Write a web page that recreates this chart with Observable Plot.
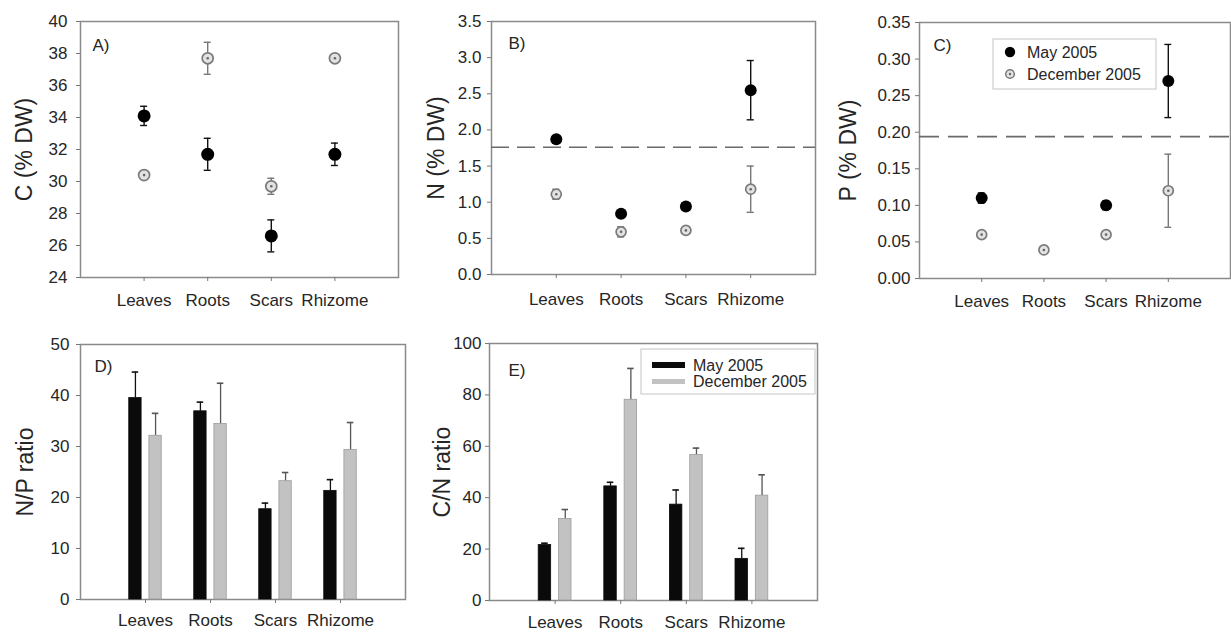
<!DOCTYPE html>
<html><head><meta charset="utf-8">
<script src="https://cdn.jsdelivr.net/npm/d3@7"></script>
<script src="https://cdn.jsdelivr.net/npm/@observablehq/plot@0.6"></script>
<style>
body{margin:0;background:#fff;}
#wrap{position:relative;width:1231px;height:632px;overflow:hidden;background:#fff;}
#wrap svg{position:absolute;overflow:visible;background:transparent;}
</style></head><body><div id="wrap"></div>
<script>
// ---------- data ----------
const categories = ["Leaves", "Roots", "Scars", "Rhizome"];
const seasons = ["May 2005", "December 2005"];

// A) C (% DW)
const cMay = [34.1, 31.7, 26.6, 31.7];
const cMaySE = [0.6, 1.0, 1.0, 0.7];
const cDec = [30.4, 37.7, 29.7, 37.7];
const cDecSE = [0.15, 1.0, 0.5, 0.15];
const cTicks = [24, 26, 28, 30, 32, 34, 36, 38, 40];

// B) N (% DW)
const nMay = [1.87, 0.84, 0.94, 2.55];
const nMaySE = [0.05, 0.04, 0.05, 0.41];
const nDec = [1.11, 0.59, 0.61, 1.18];
const nDecSE = [0.07, 0.07, 0.03, 0.32];
const nCritical = [1.76];
const nTicks = [0, 0.5, 1, 1.5, 2, 2.5, 3, 3.5];

// C) P (% DW)
const pMay = [0.110, null, 0.100, 0.270];
const pMaySE = [0.007, null, 0.006, 0.050];
const pDec = [0.060, 0.039, 0.060, 0.120];
const pDecSE = [0.003, 0.003, 0.003, 0.050];
const pCritical = [0.194];
const pTicks = [0, 0.05, 0.10, 0.15, 0.20, 0.25, 0.30, 0.35];

// D) N/P ratio
const npMay = [39.5, 36.9, 17.7, 21.3];
const npMaySE = [5.1, 1.8, 1.2, 2.2];
const npDec = [32.1, 34.4, 23.2, 29.3];
const npDecSE = [4.4, 8.0, 1.7, 5.4];
const npTicks = [0, 10, 20, 30, 40, 50];

// E) C/N ratio
const cnMay = [21.6, 44.4, 37.3, 16.2];
const cnMaySE = [0.7, 1.6, 5.7, 4.1];
const cnDec = [31.7, 78.1, 56.6, 40.8];
const cnDecSE = [3.7, 12.2, 2.7, 8.1];
const cnTicks = [0, 20, 40, 60, 80, 100];

// ---------- helpers ----------
const FONT = "'Liberation Sans', Arial, Helvetica, sans-serif";
const TXT = "#262626";
const FRAME = "#8a8a8a";
const TICKFS = 17;
const wrap = document.getElementById("wrap");

function rowsOf(vals, ses) {
  return categories.map((c, i) => ({cat: c, pos: i + 1, value: vals[i], se: ses[i]}))
    .filter(d => d.value != null);
}

function dotMarks(vals, ses, season, r) {
  const rows = rowsOf(vals, ses);
  const col = season === 0 ? "#111" : "#777";
  const cap = 0.055;
  const m = [
    Plot.ruleX(rows, {x: "pos", y1: d => d.value - d.se, y2: d => d.value + d.se, stroke: col, strokeWidth: 1.4}),
    Plot.ruleY(rows, {y: d => d.value + d.se, x1: d => d.pos - cap, x2: d => d.pos + cap, stroke: col, strokeWidth: 1.4}),
    Plot.ruleY(rows, {y: d => d.value - d.se, x1: d => d.pos - cap, x2: d => d.pos + cap, stroke: col, strokeWidth: 1.4})
  ];
  if (season === 0) {
    m.push(Plot.dot(rows, {x: "pos", y: "value", r: r, fill: "#000", stroke: "none"}));
  } else {
    m.push(Plot.dot(rows, {x: "pos", y: "value", r: r - 1, fill: "#e2e2e2", stroke: "#7a7a7a", strokeWidth: 1.7}));
    m.push(Plot.dot(rows, {x: "pos", y: "value", r: 1.3, fill: "#666", stroke: "none"}));
  }
  return m;
}

function barMarks(vals, ses, season) {
  const rows = rowsOf(vals, ses);
  const a = season === 0 ? -0.25 : 0.06, b = season === 0 ? -0.06 : 0.25;
  const fill = season === 0 ? "#0a0a0a" : "#c2c2c2";
  const stroke = season === 0 ? "#0a0a0a" : "#9c9c9c";
  const ecol = season === 0 ? "#111" : "#555";
  const mid = d => d.pos + (a + b) / 2;
  const cap = 0.05;
  return [
    Plot.ruleX(rows, {x: mid, y1: "value", y2: d => d.value + d.se, stroke: ecol, strokeWidth: 1.3}),
    Plot.ruleY(rows, {y: d => d.value + d.se, x1: d => mid(d) - cap, x2: d => mid(d) + cap, stroke: ecol, strokeWidth: 1.6}),
    Plot.rectY(rows, {x1: d => d.pos + a, x2: d => d.pos + b, y: "value", fill, stroke, strokeWidth: 0.8})
  ];
}

function panel(o) {
  const marks = [
    Plot.frame({stroke: FRAME, strokeWidth: 1.5}),
    ...(o.marks || []),
    Plot.axisY({ticks: o.yTicks, tickFormat: o.yFormat, tickSize: 4, tickPadding: o.yPad, label: null,
      stroke: "#777", fill: TXT, fontSize: TICKFS}),
    Plot.axisX({ticks: [1, 2, 3, 4], tickFormat: d => categories[d - 1], tickSize: 4, tickPadding: o.xPad,
      label: null, stroke: "#777", fill: TXT, fontSize: TICKFS}),
    Plot.text([o.yLabel], {text: d => d, frameAnchor: "left", rotate: -90, dx: -o.labelOffset,
      textAnchor: "middle", lineAnchor: "middle", fontSize: 23, fill: TXT}),
    Plot.text([o.panelLabel], {text: d => d, frameAnchor: "top-left", dx: o.plDx, dy: o.plDy,
      textAnchor: "start", lineAnchor: "middle", fontSize: 17, fill: TXT})
  ];
  const svg = Plot.plot({
    width: o.width, height: o.height,
    marginLeft: o.m[0], marginRight: o.m[1], marginTop: o.m[2], marginBottom: o.m[3],
    x: {domain: [0, 5]},
    y: {domain: o.yDomain},
    style: {fontFamily: FONT, fontSize: TICKFS + "px", color: TXT, background: "transparent", overflow: "visible"},
    marks
  });
  svg.style.left = o.left + "px";
  svg.style.top = o.top + "px";
  wrap.appendChild(svg);
  if (o.after) o.after(d3.select(svg), o);
  return svg;
}

function legendGroup(svg) {
  return svg.append("g").attr("font-family", FONT).attr("font-size", 16)
    .attr("fill", TXT).attr("text-anchor", "start");
}

// ---------- panels ----------
panel({
  left: 0, top: 0, width: 410, height: 320, m: [80, 12, 21, 43],
  yDomain: [24, 40], yTicks: cTicks, yFormat: d => String(d), yPad: 9, xPad: 12,
  yLabel: "C (% DW)", labelOffset: 56, panelLabel: "A)", plDx: 12, plDy: 24,
  marks: [...dotMarks(cDec, cDecSE, 1, 6.5), ...dotMarks(cMay, cMaySE, 0, 6.5)]
});

panel({
  left: 410, top: 0, width: 410, height: 320, m: [81, 5, 21, 46],
  yDomain: [0, 3.5], yTicks: nTicks, yFormat: d => d.toFixed(1), yPad: 6, xPad: 14,
  yLabel: "N (% DW)", labelOffset: 55, panelLabel: "B)", plDx: 17, plDy: 22,
  marks: [
    Plot.ruleY(nCritical, {stroke: "#6a6a6a", strokeWidth: 1.6, strokeDasharray: "18,8"}),
    ...dotMarks(nDec, nDecSE, 1, 6), ...dotMarks(nMay, nMaySE, 0, 6)
  ]
});

panel({
  left: 820, top: 0, width: 411, height: 320, m: [99, 1, 22, 42],
  yDomain: [0, 0.35], yTicks: pTicks, yFormat: d => d.toFixed(2), yPad: 5, xPad: 12,
  yLabel: "P (% DW)", labelOffset: 71, panelLabel: "C)", plDx: 14, plDy: 23,
  marks: [
    Plot.ruleY(pCritical, {stroke: "#6a6a6a", strokeWidth: 1.6, strokeDasharray: "20,9"}),
    ...dotMarks(pDec, pDecSE, 1, 6), ...dotMarks(pMay, pMaySE, 0, 6)
  ],
  after: (svg, o) => {
    const x0 = o.m[0] + 74, y0 = o.m[2] + 17;
    const g = legendGroup(svg);
    g.append("rect").attr("x", x0).attr("y", y0).attr("width", 163).attr("height", 50)
      .attr("fill", "#fff").attr("stroke", "#c4c4c4").attr("stroke-width", 1);
    seasons.forEach((s, i) => {
      const cy = y0 + 13 + i * 22;
      if (i === 0) {
        g.append("circle").attr("cx", x0 + 17).attr("cy", cy).attr("r", 5.2).attr("fill", "#000");
      } else {
        g.append("circle").attr("cx", x0 + 17).attr("cy", cy).attr("r", 4.3)
          .attr("fill", "#e2e2e2").attr("stroke", "#7a7a7a").attr("stroke-width", 1.5);
        g.append("circle").attr("cx", x0 + 17).attr("cy", cy).attr("r", 1.2).attr("fill", "#666");
      }
      g.append("text").attr("x", x0 + 34).attr("y", cy).attr("dy", "0.35em").text(s);
    });
  }
});

panel({
  left: 0, top: 320, width: 410, height: 312, m: [80, 5, 24, 33],
  yDomain: [0, 50], yTicks: npTicks, yFormat: d => String(d), yPad: 7, xPad: 10,
  yLabel: "N/P ratio", labelOffset: 55, panelLabel: "D)", plDx: 14, plDy: 22,
  marks: [...barMarks(npMay, npMaySE, 0), ...barMarks(npDec, npDecSE, 1)]
});

panel({
  left: 410, top: 320, width: 410, height: 312, m: [79, 3, 23, 32],
  yDomain: [0, 100], yTicks: cnTicks, yFormat: d => String(d), yPad: 4, xPad: 11,
  yLabel: "C/N ratio", labelOffset: 47, panelLabel: "E)", plDx: 19, plDy: 27,
  marks: [...barMarks(cnMay, cnMaySE, 0), ...barMarks(cnDec, cnDecSE, 1)],
  after: (svg, o) => {
    const x0 = o.m[0] + 152, y0 = o.m[2] + 6;
    const g = legendGroup(svg);
    g.append("rect").attr("x", x0).attr("y", y0).attr("width", 174).attr("height", 45)
      .attr("fill", "#fff").attr("stroke", "#c4c4c4").attr("stroke-width", 1);
    seasons.forEach((s, i) => {
      const cy = y0 + 16 + i * 16.5;
      g.append("rect").attr("x", x0 + 11).attr("y", cy - (i === 0 ? 3 : 2.5)).attr("width", 33)
        .attr("height", i === 0 ? 6 : 5).attr("fill", i === 0 ? "#0a0a0a" : "#c2c2c2");
      g.append("text").attr("x", x0 + 52).attr("y", cy).attr("dy", "0.35em").text(s);
    });
  }
});
</script></body></html>
